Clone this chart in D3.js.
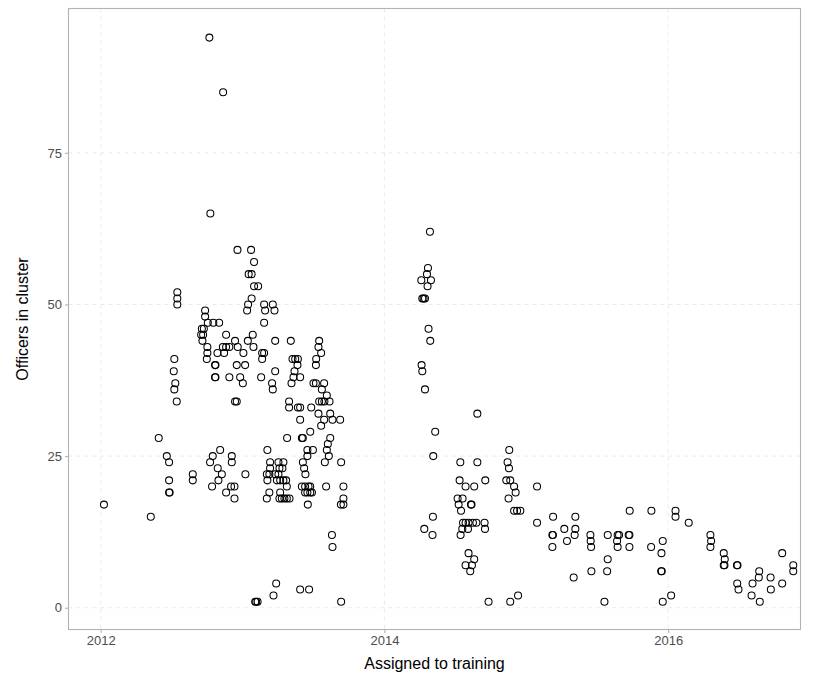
<!DOCTYPE html>
<html>
<head>
<meta charset="utf-8">
<script src="https://cdn.jsdelivr.net/npm/d3@7"></script>
<style>
  html, body { margin: 0; padding: 0; background: #fff; }
  svg { display: block; font-family: "Liberation Sans", Arial, sans-serif; }
</style>
</head>
<body>
<svg id="chart" width="817" height="687"></svg>
<script>
// Training assignment date (decimal year) and size of the officer's cluster.
const assignedYear2012 = [
  2012.023, 2012.353, 2012.409, 2012.466, 2012.482, 2012.482, 2012.482, 2012.486,
  2012.540, 2012.540, 2012.540, 2012.519, 2012.515, 2012.526, 2012.519, 2012.536,
  2012.649, 2012.649, 2012.736, 2012.736, 2012.755, 2012.794, 2012.835, 2012.713,
  2012.727, 2012.708, 2012.722, 2012.717, 2012.752, 2012.752, 2012.748, 2012.884,
  2012.806, 2012.809, 2012.806, 2012.809, 2012.823, 2012.870, 2012.861, 2012.884,
  2012.907, 2012.947, 2012.966, 2013.006, 2013.037, 2012.959, 2013.018, 2012.907,
  2012.983, 2013.002, 2012.947, 2012.959, 2012.766, 2012.863, 2012.773, 2012.964,
  2012.842, 2012.790, 2012.771, 2012.924, 2012.924, 2012.825, 2012.854, 2012.830,
  2012.785, 2012.884, 2012.919, 2012.943, 2012.943
];
const officers2012 = [
  17, 15, 28, 25, 24, 21, 19, 19,
  52, 51, 50, 41, 39, 37, 36, 34,
  22, 21, 49, 48, 47, 47, 47, 46,
  46, 45, 45, 44, 43, 42, 41, 45,
  40, 40, 38, 38, 42, 42, 43, 43,
  43, 44, 43, 42, 44, 40, 40, 38,
  38, 37, 34, 34, 94, 85, 65, 59,
  26, 25, 24, 25, 24, 23, 22, 21,
  20, 19, 20, 20, 18
];

const assignedYear2013 = [
  2013.020, 2013.060, 2013.081, 2013.043, 2013.064, 2013.081, 2013.110, 2013.064,
  2013.039, 2013.032, 2013.152, 2013.213, 2013.159, 2013.225, 2013.152, 2013.072,
  2013.077, 2013.138, 2013.152, 2013.138, 2013.230, 2013.340, 2013.540, 2013.535,
  2013.554, 2013.352, 2013.371, 2013.390, 2013.519, 2013.517, 2013.387, 2013.366,
  2013.359, 2013.406, 2013.345, 2013.230, 2013.131, 2013.208, 2013.213, 2013.500,
  2013.517, 2013.575, 2013.559, 2013.594, 2013.540, 2013.559, 2013.577, 2013.613,
  2013.328, 2013.328, 2013.390, 2013.406, 2013.484, 2013.535, 2013.618, 2013.575,
  2013.634, 2013.688, 2013.406, 2013.554, 2013.477, 2013.314, 2013.418, 2013.425,
  2013.618, 2013.601, 2013.175, 2013.457, 2013.496, 2013.594, 2013.457, 2013.608,
  2013.194, 2013.253, 2013.288, 2013.425, 2013.580, 2013.695, 2013.194, 2013.260,
  2013.281, 2013.434, 2013.171, 2013.189, 2013.230, 2013.253, 2013.443, 2013.175,
  2013.242, 2013.265, 2013.288, 2013.307, 2013.312, 2013.418, 2013.441, 2013.465,
  2013.477, 2013.589, 2013.711, 2013.189, 2013.265, 2013.441, 2013.457, 2013.477,
  2013.489, 2013.171, 2013.260, 2013.277, 2013.295, 2013.312, 2013.331, 2013.711,
  2013.693, 2013.711, 2013.460, 2013.630, 2013.634, 2013.237, 2013.218, 2013.406,
  2013.469, 2013.089, 2013.096, 2013.106, 2013.695
];
const officers2013 = [
  22, 59, 57, 55, 55, 53, 53, 51,
  50, 49, 50, 50, 49, 49, 47, 45,
  43, 42, 42, 41, 44, 44, 44, 43,
  42, 41, 41, 41, 41, 40, 40, 39,
  38, 38, 37, 39, 38, 37, 36, 37,
  37, 37, 36, 35, 34, 34, 34, 34,
  34, 33, 33, 33, 33, 32, 32, 31,
  31, 31, 31, 30, 29, 28, 28, 28,
  28, 27, 26, 26, 26, 26, 25, 25,
  24, 24, 24, 24, 24, 24, 23, 23,
  23, 23, 22, 22, 22, 22, 22, 21,
  21, 21, 21, 21, 20, 20, 20, 20,
  20, 20, 20, 19, 19, 19, 19, 19,
  19, 18, 18, 18, 18, 18, 18, 18,
  17, 17, 17, 12, 10, 4, 2, 3,
  3, 1, 1, 1, 1
];

const assignedYear2014 = [
  2014.321, 2014.307, 2014.300, 2014.260, 2014.328, 2014.304, 2014.267, 2014.276,
  2014.286, 2014.311, 2014.323, 2014.262, 2014.267, 2014.286, 2014.655, 2014.358,
  2014.344, 2014.535, 2014.655, 2014.880, 2014.868, 2014.878, 2014.530, 2014.572,
  2014.633, 2014.711, 2014.859, 2014.887, 2014.914, 2014.925, 2014.875, 2014.914,
  2014.935, 2014.958, 2014.516, 2014.551, 2014.523, 2014.540, 2014.610, 2014.614,
  2014.342, 2014.281, 2014.339, 2014.554, 2014.572, 2014.593, 2014.624, 2014.648,
  2014.706, 2014.549, 2014.589, 2014.709, 2014.537, 2014.593, 2014.633, 2014.572,
  2014.617, 2014.605, 2014.734, 2014.887, 2014.942
];
const officers2014 = [
  62, 56, 55, 54, 54, 53, 51, 51,
  51, 46, 44, 40, 39, 36, 32, 29,
  25, 24, 24, 26, 24, 23, 21, 20,
  20, 21, 21, 21, 20, 19, 18, 16,
  16, 16, 18, 18, 17, 16, 17, 17,
  15, 13, 12, 14, 14, 14, 14, 14,
  14, 13, 13, 13, 12, 9, 8, 7,
  7, 6, 1, 1, 2
];

const assignedYear2015 = [
  2015.076, 2015.076, 2015.189, 2015.184, 2015.188, 2015.184, 2015.268, 2015.287,
  2015.346, 2015.346, 2015.341, 2015.334, 2015.452, 2015.454, 2015.457, 2015.459,
  2015.574, 2015.574, 2015.570, 2015.551, 2015.644, 2015.654, 2015.640, 2015.644,
  2015.722, 2015.727, 2015.727, 2015.729, 2015.882, 2015.880, 2015.962, 2015.953,
  2015.951, 2015.955, 2015.962, 2016.021, 2016.052, 2016.052
];
const officers2015 = [
  20, 14, 15, 12, 12, 10, 13, 11,
  15, 13, 12, 5, 12, 11, 10, 6,
  12, 8, 6, 1, 12, 12, 11, 10,
  12, 12, 10, 16, 16, 10, 11, 9,
  6, 6, 1, 2, 16, 15
];

const assignedYear2016 = [
  2016.145, 2016.298, 2016.303, 2016.298, 2016.392, 2016.399, 2016.392, 2016.397,
  2016.485, 2016.489, 2016.487, 2016.496, 2016.595, 2016.642, 2016.639, 2016.588,
  2016.646, 2016.722, 2016.724, 2016.804, 2016.804, 2016.882, 2016.882
];
const officers2016 = [
  14, 12, 11, 10, 9, 8, 7, 7,
  7, 7, 4, 3, 4, 6, 5, 2,
  1, 5, 3, 9, 4, 7, 6
];

const xTicks = [2012, 2014, 2016];
const yTicks = [0, 25, 50, 75];
const xTitle = "Assigned to training";
const yTitle = "Officers in cluster";

const years = [].concat(assignedYear2012, assignedYear2013, assignedYear2014, assignedYear2015, assignedYear2016);
const sizes = [].concat(officers2012, officers2013, officers2014, officers2015, officers2016);
const points = years.map((yr, i) => ({ yr, n: sizes[i] }));

const panel = { left: 68.5, right: 800.5, top: 8.5, bottom: 629.5 };

const x = d3.scaleLinear().domain([2011.773, 2016.933]).range([panel.left, panel.right]);
const y = d3.scaleLinear().domain([-3.59, 98.8]).range([panel.bottom, panel.top]);

const svg = d3.select("#chart");

// dashed major grid
const grid = svg.append("g");
grid.selectAll("line.gx").data(xTicks).join("line")
  .attr("x1", d => x(d)).attr("x2", d => x(d))
  .attr("y1", panel.top).attr("y2", panel.bottom)
  .attr("stroke", "#e3e3e3").attr("stroke-width", 0.8).attr("stroke-dasharray", "4,4");
grid.selectAll("line.gy").data(yTicks).join("line")
  .attr("x1", panel.left).attr("x2", panel.right)
  .attr("y1", d => y(d)).attr("y2", d => y(d))
  .attr("stroke", "#e3e3e3").attr("stroke-width", 0.8).attr("stroke-dasharray", "4,4");

// points
svg.append("g").selectAll("circle").data(points).join("circle")
  .attr("cx", d => x(d.yr))
  .attr("cy", d => y(d.n))
  .attr("r", 3.5)
  .attr("fill", "none")
  .attr("stroke", "#000")
  .attr("stroke-width", 1.05);

// panel border
svg.append("rect")
  .attr("x", panel.left).attr("y", panel.top)
  .attr("width", panel.right - panel.left).attr("height", panel.bottom - panel.top)
  .attr("fill", "none").attr("stroke", "#b3b3b3").attr("stroke-width", 1.1);

// axes
const xAxis = d3.axisBottom(x).tickValues(xTicks).tickFormat(d3.format("d")).tickSize(3.5).tickPadding(3);
const yAxis = d3.axisLeft(y).tickValues(yTicks).tickSize(3.5).tickPadding(3);

const gx = svg.append("g").attr("transform", `translate(0,${panel.bottom})`).call(xAxis);
const gy = svg.append("g").attr("transform", `translate(${panel.left},0)`).call(yAxis);
[gx, gy].forEach(g => {
  g.select(".domain").remove();
  g.selectAll(".tick line").attr("stroke", "#b3b3b3").attr("stroke-width", 1.1);
  g.selectAll(".tick text").attr("fill", "#4d4d4d").attr("font-size", 13)
    .attr("font-family", "Liberation Sans, Arial, sans-serif");
});

// axis titles
svg.append("text")
  .attr("x", (panel.left + panel.right) / 2).attr("y", 669)
  .attr("text-anchor", "middle").attr("font-size", 16).attr("fill", "#000")
  .text(xTitle);
svg.append("text")
  .attr("transform", `translate(28,${(panel.top + panel.bottom) / 2}) rotate(-90)`)
  .attr("text-anchor", "middle").attr("font-size", 16).attr("fill", "#000")
  .text(yTitle);
</script>
</body>
</html>
